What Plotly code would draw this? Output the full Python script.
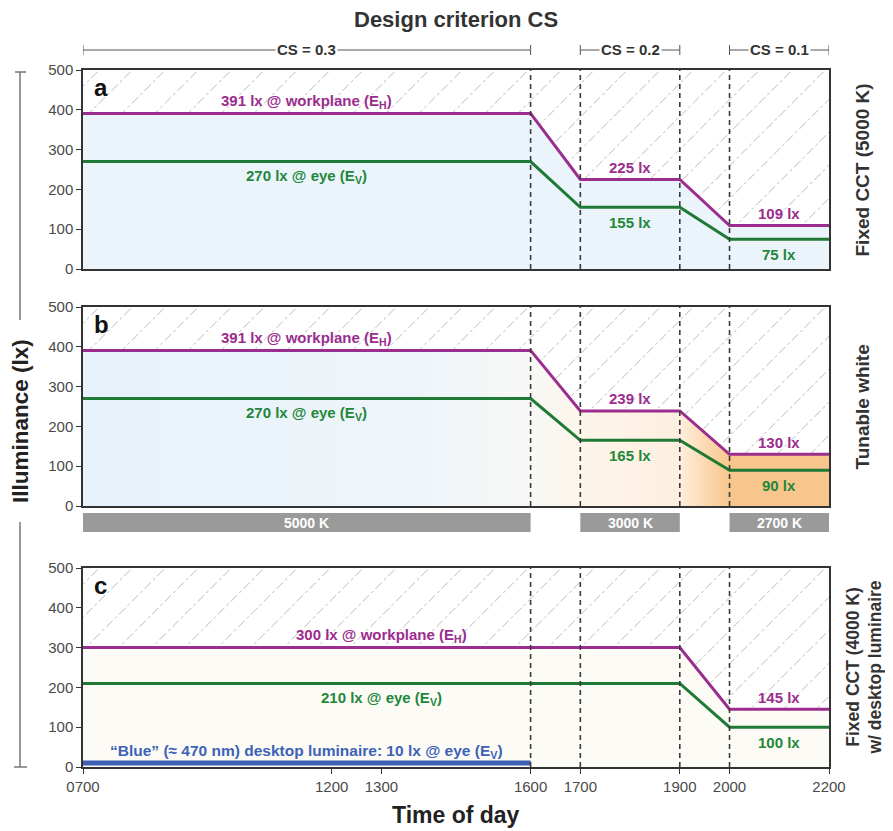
import plotly.graph_objects as go
import numpy as np

# ---------------- data ----------------
hours = [7, 16, 17, 19, 20, 22]
tick_vals = [7, 12, 13, 16, 17, 19, 20, 22]
tick_text = ["0700", "1200", "1300", "1600", "1700", "1900", "2000", "2200"]
transition_hours = [16, 17, 19, 20]
y_ticks = [0, 100, 200, 300, 400, 500]

a_workplane = [391, 391, 225, 225, 109, 109]
a_eye = [270, 270, 155, 155, 75, 75]
b_workplane = [391, 391, 239, 239, 130, 130]
b_eye = [270, 270, 165, 165, 90, 90]
c_workplane = [300, 300, 300, 300, 145, 145]
c_eye = [210, 210, 210, 210, 100, 100]
c_blue_hours = [7, 16]
c_blue = [10, 10]

cs_segments = [(7, 16, "CS = 0.3"), (17, 19, "CS = 0.2"), (20, 22, "CS = 0.1")]
cct_segments = [(7, 16, "5000 K"), (17, 19, "3000 K"), (20, 22, "2700 K")]
panel_letters = ["a", "b", "c"]
panel_titles = ["Fixed CCT (5000 K)", "Tunable white",
                "Fixed CCT (4000 K)<br>w/ desktop luminaire"]

# value labels: (panel, x hour, y value, text, above?, kind)
value_labels = [
    (0, 11.5, 391, "391 lx @ workplane (E<sub>H</sub>)", True, "p"),
    (0, 11.5, 270, "270 lx @ eye (E<sub>V</sub>)", False, "g"),
    (0, 18, 225, "225 lx", True, "p"),
    (0, 18, 155, "155 lx", False, "g"),
    (0, 21, 109, "109 lx", True, "p"),
    (0, 21, 75, "75 lx", False, "g"),
    (1, 11.5, 391, "391 lx @ workplane (E<sub>H</sub>)", True, "p"),
    (1, 11.5, 270, "270 lx @ eye (E<sub>V</sub>)", False, "g"),
    (1, 18, 239, "239 lx", True, "p"),
    (1, 18, 165, "165 lx", False, "g"),
    (1, 21, 130, "130 lx", True, "p"),
    (1, 21, 90, "90 lx", False, "g"),
    (2, 13, 300, "300 lx @ workplane (E<sub>H</sub>)", True, "p"),
    (2, 13, 210, "210 lx @ eye (E<sub>V</sub>)", False, "g"),
    (2, 21, 145, "145 lx", True, "p"),
    (2, 21, 100, "100 lx", False, "g"),
    (2, 11.5, 10, "\u201cBlue\u201d (\u2248 470 nm) desktop luminaire: 10 lx @ eye (E<sub>V</sub>)", True, "b"),
]

# ---------------- styles ----------------
PURPLE = "#9b2d8e"
GREEN = "#1f7a35"
BLUE = "#3d5fb4"
TEXT_COL = {"p": "#9b2d8e", "g": "#23873a", "b": "#3d62b8"}
FONT = "Liberation Sans, Arial, sans-serif"

OFF = 8  # page body margin
W, H = 885, 823
ML, MT = 75, 62
PW, PH = 746, 697
MR, MB = W - ML - PW, H - MT - PH


def py(page_y):  # page pixel y -> paper y
    return (H - MB - (page_y - OFF)) / PH


def pxx(page_x):  # page pixel x -> paper x
    return (page_x - OFF - ML) / PW


domains = [[py(269), 1.0], [py(506), py(307)], [0.0, py(568)]]

fig = go.Figure()

axes = ["", "2", "3"]
series = [(a_workplane, a_eye), (b_workplane, b_eye), (c_workplane, c_eye)]

# hatch lines (45 degrees in pixel space)
x_per_px = 15 / PW
y_per_px = 500 / ((domains[0][1] - domains[0][0]) * PH)
span_h = 4.0
rise = span_h / x_per_px * y_per_px
spacing = 33 * x_per_px
starts = np.arange(7 - span_h - 1, 22 + 0.01, spacing)

for i, ax in enumerate(axes):
    xa, ya = "x" + ax, "y" + ax
    hx, hy = [], []
    for s in starts:
        hx += [s, s + span_h * 1.3, None]
        hy += [0, rise * 1.3, None]
    fig.add_trace(go.Scatter(x=hx, y=hy, mode="lines", xaxis=xa, yaxis=ya,
                             line=dict(color="#bababa", width=1, dash="dashdot"),
                             hoverinfo="skip", showlegend=False))
    wp, ey = series[i]
    if i == 0:
        fig.add_trace(go.Scatter(x=hours, y=wp, mode="lines", fill="tozeroy",
                                 fillcolor="#ebf4fb", line=dict(width=0),
                                 xaxis=xa, yaxis=ya, hoverinfo="skip", showlegend=False))
    elif i == 1:
        fig.add_trace(go.Scatter(
            x=hours, y=wp, mode="lines", fill="tozeroy", line=dict(width=0),
            fillgradient=dict(type="horizontal", colorscale=[
                [0.0, "#e8f2fb"], [0.45, "#eef5fa"], [0.6, "#f8f8f6"],
                [0.667, "#fdf5eb"], [0.8, "#fdefdf"], [0.83, "#fcdcb6"],
                [0.867, "#f8c68c"], [1.0, "#f8c68c"]]),
            xaxis=xa, yaxis=ya, hoverinfo="skip", showlegend=False))
    else:
        fig.add_trace(go.Scatter(x=hours, y=wp, mode="lines", fill="tozeroy",
                                 fillcolor="#fcfbf6", line=dict(width=0),
                                 xaxis=xa, yaxis=ya, hoverinfo="skip", showlegend=False))
    fig.add_trace(go.Scatter(x=hours, y=wp, mode="lines", xaxis=xa, yaxis=ya,
                             line=dict(color=PURPLE, width=3),
                             hoverinfo="skip", showlegend=False))
    fig.add_trace(go.Scatter(x=hours, y=ey, mode="lines", xaxis=xa, yaxis=ya,
                             line=dict(color=GREEN, width=3),
                             hoverinfo="skip", showlegend=False))
    if i == 2:
        fig.add_trace(go.Scatter(x=c_blue_hours, y=c_blue, mode="lines", xaxis=xa, yaxis=ya,
                                 line=dict(color=BLUE, width=5),
                                 hoverinfo="skip", showlegend=False))
    # vertical dashed lines
    for th in transition_hours:
        fig.add_shape(type="line", xref=xa, yref=ya + " domain", x0=th, x1=th, y0=0, y1=1,
                      line=dict(color="#3a3a3a", width=1.6, dash="5px,4px"), layer="above")
    # panel letter
    fig.add_annotation(xref=xa + " domain", yref=ya + " domain", x=0.012, y=0.99,
                       xanchor="left", yanchor="top", text="<b>%s</b>" % panel_letters[i],
                       showarrow=False, font=dict(family=FONT, size=24, color="#111"))
    # right title
    fig.add_annotation(xref="paper", yref="paper",
                       x=pxx(862 if i < 2 else 864), y=sum(domains[i]) / 2,
                       xanchor="center", yanchor="middle",
                       text="<b>%s</b>" % panel_titles[i], textangle=-90, showarrow=False,
                       font=dict(family=FONT, size=19 if i < 2 else 17.5, color="#333"))

# value labels
for (p, xh, yv, txt, above, kind) in value_labels:
    ax = axes[p]
    fig.add_annotation(xref="x" + ax, yref="y" + ax, x=xh, y=yv,
                       text="<b>%s</b>" % txt, showarrow=False,
                       yshift=12 if above else -15, xanchor="center", yanchor="middle",
                       font=dict(family=FONT, size=15.5 if kind == "b" else 15,
                                 color=TEXT_COL[kind]))

# CS brackets
yb = py(50)
cap = 5 / PH
for (x0, x1, txt) in cs_segments:
    fig.add_shape(type="line", xref="x", yref="paper", x0=x0, x1=x1, y0=yb, y1=yb,
                  line=dict(color="#555", width=1))
    for xx in (x0, x1):
        fig.add_shape(type="line", xref="x", yref="paper", x0=xx, x1=xx, y0=yb - cap, y1=yb + cap,
                      line=dict(color="#555", width=1))
    fig.add_annotation(xref="x", yref="paper", x=(x0 + x1) / 2, y=yb, text="<b>%s</b>" % txt,
                       showarrow=False, bgcolor="white", borderpad=1,
                       xanchor="center", yanchor="middle",
                       font=dict(family=FONT, size=15, color="#333"))

# CCT bars under panel b
for (x0, x1, txt) in cct_segments:
    fig.add_shape(type="rect", xref="x2", yref="paper", x0=x0, x1=x1,
                  y0=py(532), y1=py(513), fillcolor="#9a9a9a", line=dict(width=0))
    fig.add_annotation(xref="x2", yref="paper", x=(x0 + x1) / 2, y=py(522.5),
                       xanchor="center", yanchor="middle",
                       text="<b>%s</b>" % txt, showarrow=False,
                       font=dict(family=FONT, size=14, color="white"))

# left y title with bracket lines
xl = pxx(20)
fig.add_annotation(xref="paper", yref="paper", x=xl, y=py(421), text="<b>Illuminance (lx)</b>",
                   textangle=-90, showarrow=False, xanchor="center", yanchor="middle",
                   font=dict(family=FONT, size=22.5, color="#222"))
for (y0, y1) in [(72, 320), (522, 767)]:
    fig.add_shape(type="line", xref="paper", yref="paper", x0=xl, x1=xl, y0=py(y0), y1=py(y1),
                  line=dict(color="#777", width=1.5))
fig.add_shape(type="line", xref="paper", yref="paper", x0=pxx(15), x1=pxx(26), y0=py(72), y1=py(72),
              line=dict(color="#777", width=1.5))
fig.add_shape(type="line", xref="paper", yref="paper", x0=pxx(14), x1=pxx(27), y0=py(767), y1=py(767),
              line=dict(color="#777", width=1.5))

# title and x title
fig.add_annotation(xref="paper", yref="paper", x=0.5, y=py(20), text="<b>Design criterion CS</b>",
                   showarrow=False, xanchor="center", yanchor="middle",
                   font=dict(family=FONT, size=22, color="#333"))
fig.add_annotation(xref="paper", yref="paper", x=0.5, y=py(815), text="<b>Time of day</b>",
                   showarrow=False, xanchor="center", yanchor="middle",
                   font=dict(family=FONT, size=23, color="#222"))

layout = dict(
    width=W, height=H, margin=dict(l=ML, r=MR, t=MT, b=MB),
    paper_bgcolor="white", plot_bgcolor="white", showlegend=False,
    font=dict(family=FONT),
)
for i, ax in enumerate(axes):
    layout["xaxis" + ax] = dict(
        range=[7, 22], domain=[0, 1], anchor="y" + ax, showgrid=False, zeroline=False,
        showline=True, mirror=True, linecolor="#333", linewidth=1.5,
        tickvals=tick_vals if i == 2 else [], ticktext=tick_text if i == 2 else [],
        ticks="outside" if i == 2 else "", ticklen=5, tickcolor="#333",
        showticklabels=(i == 2), tickfont=dict(family=FONT, size=15, color="#4a4a4a"),
    )
    layout["yaxis" + ax] = dict(
        range=[0, 500], domain=domains[i], anchor="x" + ax, showgrid=False, zeroline=False,
        showline=True, mirror=True, linecolor="#333", linewidth=1.5,
        tickvals=y_ticks, ticks="outside", ticklen=5, tickcolor="#333",
        tickfont=dict(family=FONT, size=15, color="#4a4a4a"),
    )
fig.update_layout(**layout)

fig.write_html("out.html", config={"displayModeBar": False})
